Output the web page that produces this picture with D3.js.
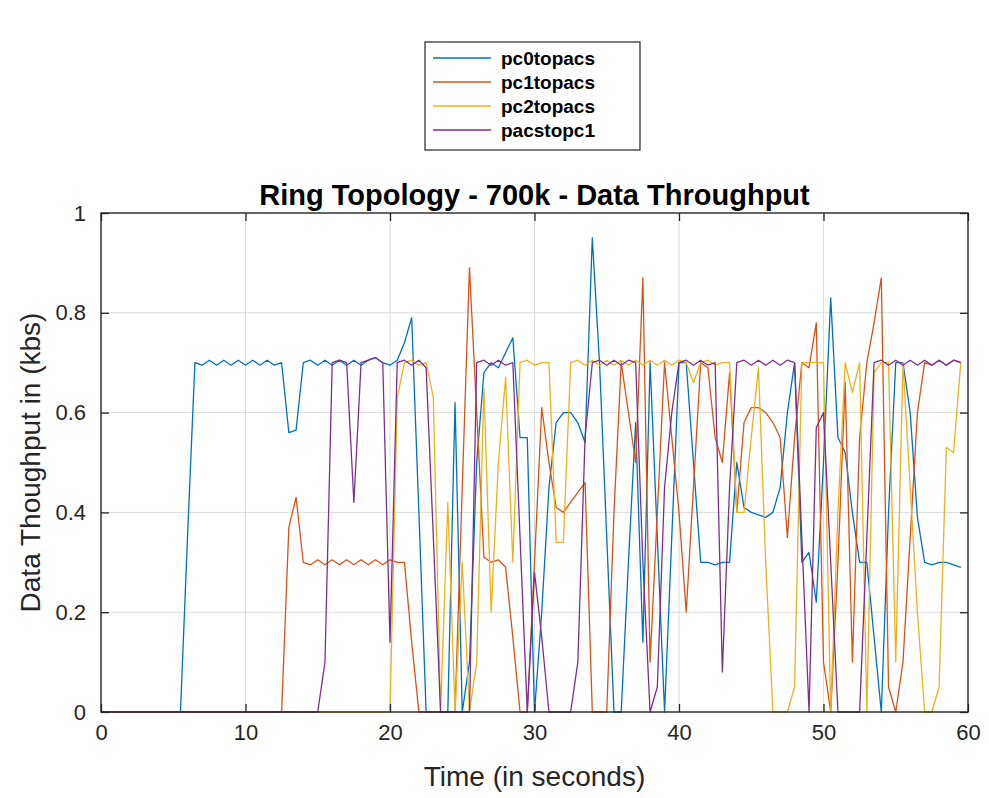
<!DOCTYPE html>
<html>
<head>
<meta charset="utf-8">
<script src="https://cdn.jsdelivr.net/npm/d3@7"></script>
<style>
  body { margin: 0; background: #fff; }
  svg text { font-family: "Liberation Sans", Arial, Helvetica, sans-serif; }
</style>
</head>
<body>
<svg id="chart" width="989" height="798"></svg>
<script>
// Throughput samples, one every 0.5 s starting at t = 0 (kbs)
const sampleStep = 0.5;

const pc0topacs = [
  0, 0, 0, 0, 0, 0, 0, 0, 0, 0,
  0, 0, 0.36, 0.70, 0.695, 0.705, 0.695, 0.705, 0.695, 0.705,
  0.695, 0.705, 0.695, 0.705, 0.695, 0.70, 0.56, 0.565, 0.70, 0.705,
  0.695, 0.705, 0.695, 0.705, 0.695, 0.705, 0.695, 0.705, 0.71, 0.70,
  0.695, 0.705, 0.74, 0.79, 0.40, 0, 0, 0, 0, 0.62,
  0, 0.1, 0.5, 0.68, 0.70, 0.69, 0.72, 0.75, 0.55, 0.55,
  0, 0.2, 0.45, 0.58, 0.60, 0.60, 0.58, 0.54, 0.95, 0.70,
  0.35, 0, 0, 0.3, 0.58, 0.14, 0.70, 0.35, 0, 0.35,
  0.70, 0.70, 0.5, 0.3, 0.30, 0.295, 0.30, 0.30, 0.5, 0.41,
  0.40, 0.395, 0.39, 0.40, 0.45, 0.6, 0.70, 0.3, 0.32, 0.22,
  0.5, 0.83, 0.55, 0.52, 0.4, 0.3, 0.3, 0.15, 0, 0.4,
  0.70, 0.70, 0.6, 0.39, 0.30, 0.295, 0.30, 0.30, 0.295, 0.29
];

const pc1topacs = [
  0, 0, 0, 0, 0, 0, 0, 0, 0, 0,
  0, 0, 0, 0, 0, 0, 0, 0, 0, 0,
  0, 0, 0, 0, 0, 0, 0.37, 0.43, 0.30, 0.295,
  0.305, 0.295, 0.305, 0.295, 0.305, 0.295, 0.305, 0.295, 0.305, 0.295,
  0.305, 0.30, 0.30, 0.14, 0, 0, 0, 0, 0, 0,
  0.45, 0.89, 0.6, 0.31, 0.30, 0.305, 0.29, 0.15, 0, 0,
  0.3, 0.61, 0.5, 0.41, 0.40, 0.42, 0.44, 0.46, 0, 0,
  0, 0.4, 0.70, 0.6, 0.5, 0.87, 0.1, 0.4, 0.70, 0.55,
  0.4, 0.2, 0.45, 0.70, 0.69, 0.55, 0.5, 0.68, 0.4, 0.58,
  0.61, 0.61, 0.60, 0.58, 0.55, 0.35, 0.55, 0.70, 0.69, 0.78,
  0.1, 0, 0.3, 0.66, 0.1, 0.55, 0.70, 0.78, 0.87, 0.05,
  0, 0.1, 0.35, 0.6, 0.70, 0.695, 0.705, 0.695, 0.705, 0.70
];

const pc2topacs = [
  0, 0, 0, 0, 0, 0, 0, 0, 0, 0,
  0, 0, 0, 0, 0, 0, 0, 0, 0, 0,
  0, 0, 0, 0, 0, 0, 0, 0, 0, 0,
  0, 0, 0, 0, 0, 0, 0, 0, 0, 0,
  0, 0.63, 0.70, 0.705, 0.695, 0.70, 0.63, 0, 0.42, 0,
  0.3, 0, 0.1, 0.65, 0.2, 0.5, 0.67, 0.3, 0.70, 0.705,
  0.695, 0.70, 0.70, 0.34, 0.34, 0.70, 0.705, 0.695, 0.705, 0.695,
  0.705, 0.695, 0.705, 0.695, 0.705, 0.695, 0.705, 0.695, 0.705, 0.695,
  0.705, 0.70, 0.66, 0.70, 0.705, 0.695, 0.70, 0.70, 0.4, 0.4,
  0.55, 0.69, 0.3, 0, 0, 0, 0.05, 0.70, 0.70, 0.70,
  0.70, 0, 0.4, 0.70, 0.64, 0.70, 0, 0.68, 0.70, 0.70,
  0.1, 0.70, 0.45, 0.2, 0, 0, 0.05, 0.53, 0.52, 0.70
];

const pacstopc1 = [
  0, 0, 0, 0, 0, 0, 0, 0, 0, 0,
  0, 0, 0, 0, 0, 0, 0, 0, 0, 0,
  0, 0, 0, 0, 0, 0, 0, 0, 0, 0,
  0, 0.1, 0.70, 0.705, 0.70, 0.42, 0.70, 0.705, 0.71, 0.70,
  0.14, 0.70, 0.705, 0.695, 0.705, 0.69, 0.35, 0, 0, 0,
  0, 0, 0.70, 0.705, 0.695, 0.705, 0.695, 0.70, 0.35, 0,
  0.28, 0.15, 0, 0, 0, 0, 0.1, 0.55, 0.70, 0.705,
  0.695, 0.705, 0.695, 0.705, 0.70, 0.3, 0, 0.05, 0.45, 0.6,
  0.70, 0.705, 0.695, 0.705, 0.695, 0.70, 0.08, 0.45, 0.70, 0.705,
  0.695, 0.705, 0.695, 0.705, 0.695, 0.705, 0.70, 0.35, 0, 0.57,
  0.6, 0.3, 0, 0, 0, 0, 0.35, 0.70, 0.705, 0.695,
  0.705, 0.695, 0.705, 0.695, 0.705, 0.695, 0.705, 0.695, 0.705, 0.70
];

const seriesNames = ["pc0topacs", "pc1topacs", "pc2topacs", "pacstopc1"];
const seriesValues = [pc0topacs, pc1topacs, pc2topacs, pacstopc1];
const seriesColors = ["#0072BD", "#D95319", "#EDB120", "#7E2F8E"];

const xTicks = [0, 10, 20, 30, 40, 50, 60];
const yTicks = [0, 0.2, 0.4, 0.6, 0.8, 1];
const yTickLabels = ["0", "0.2", "0.4", "0.6", "0.8", "1"];

const titleText = "Ring Topology - 700k - Data Throughput";
const xLabelText = "Time (in seconds)";
const yLabelText = "Data Thoughput in (kbs)";

// ---- layout ----
const plot = { left: 101, right: 968, top: 213, bottom: 712 };
const axisColor = "#262626";

const svg = d3.select("#chart");
const x = d3.scaleLinear().domain([0, 60]).range([plot.left, plot.right]);
const y = d3.scaleLinear().domain([0, 1]).range([plot.bottom, plot.top]);

// grid
const grid = svg.append("g").attr("stroke", "#dcdcdc").attr("stroke-width", 1);
grid.selectAll(".gx").data(xTicks.slice(1, -1)).join("line")
  .attr("x1", d => x(d)).attr("x2", d => x(d))
  .attr("y1", plot.top).attr("y2", plot.bottom);
grid.selectAll(".gy").data(yTicks.slice(1, -1)).join("line")
  .attr("x1", plot.left).attr("x2", plot.right)
  .attr("y1", d => y(d)).attr("y2", d => y(d));

// series lines
const line = d3.line()
  .x((d, i) => x(i * sampleStep))
  .y(d => y(d));

svg.append("g").attr("fill", "none")
  .selectAll("path").data(seriesValues).join("path")
  .attr("d", d => line(d))
  .attr("stroke", (d, i) => seriesColors[i])
  .attr("stroke-width", 1.3)
  .attr("stroke-linejoin", "round");

// axes (ticks pointing inward)
const tickLen = 8;
const bottomAxis = d3.axisBottom(x).tickValues(xTicks).tickFormat(d3.format("d"))
  .tickSizeInner(-tickLen).tickSizeOuter(0).tickPadding(tickLen + 4);
const topAxis = d3.axisTop(x).tickValues(xTicks).tickFormat("")
  .tickSizeInner(-tickLen).tickSizeOuter(0);
const leftAxis = d3.axisLeft(y).tickValues(yTicks).tickFormat((d, i) => yTickLabels[i])
  .tickSizeInner(-tickLen).tickSizeOuter(0).tickPadding(tickLen + 7);
const rightAxis = d3.axisRight(y).tickValues(yTicks).tickFormat("")
  .tickSizeInner(-tickLen).tickSizeOuter(0);

function styleAxis(g) {
  g.select(".domain").remove();
  g.selectAll(".tick line").attr("stroke", axisColor).attr("stroke-width", 1.3);
  g.selectAll(".tick text").attr("fill", axisColor).attr("font-size", 22);
}
svg.append("g").attr("transform", `translate(0,${plot.bottom})`).call(bottomAxis).call(styleAxis);
svg.append("g").attr("transform", `translate(0,${plot.top})`).call(topAxis).call(styleAxis);
svg.append("g").attr("transform", `translate(${plot.left},0)`).call(leftAxis).call(styleAxis);
svg.append("g").attr("transform", `translate(${plot.right},0)`).call(rightAxis).call(styleAxis);

// axes box
svg.append("rect")
  .attr("x", plot.left).attr("y", plot.top)
  .attr("width", plot.right - plot.left).attr("height", plot.bottom - plot.top)
  .attr("fill", "none").attr("stroke", axisColor).attr("stroke-width", 1.4);

// title and axis labels
svg.append("text")
  .attr("x", (plot.left + plot.right) / 2).attr("y", 205)
  .attr("text-anchor", "middle").attr("font-size", 29).attr("font-weight", "bold")
  .attr("fill", "#000").text(titleText);

svg.append("text")
  .attr("x", (plot.left + plot.right) / 2).attr("y", 786)
  .attr("text-anchor", "middle").attr("font-size", 28)
  .attr("fill", axisColor).text(xLabelText);

svg.append("text")
  .attr("transform", `translate(40,${(plot.top + plot.bottom) / 2}) rotate(-90)`)
  .attr("text-anchor", "middle").attr("font-size", 28)
  .attr("fill", axisColor).text(yLabelText);

// legend
const legend = { x: 425, y: 42, w: 215, h: 108, rowH: 24, firstRow: 16 };
const lg = svg.append("g");
lg.append("rect")
  .attr("x", legend.x).attr("y", legend.y)
  .attr("width", legend.w).attr("height", legend.h)
  .attr("fill", "#fff").attr("stroke", axisColor).attr("stroke-width", 1.2);
const rows = lg.selectAll("g.row").data(seriesNames).join("g")
  .attr("transform", (d, i) => `translate(${legend.x},${legend.y + legend.firstRow + i * legend.rowH})`);
rows.append("line")
  .attr("x1", 8).attr("x2", 66)
  .attr("stroke", (d, i) => seriesColors[i]).attr("stroke-width", 1.3);
rows.append("text")
  .attr("x", 76).attr("dy", "0.35em")
  .attr("font-size", 19).attr("font-weight", "bold")
  .attr("fill", "#000").text(d => d);
</script>
</body>
</html>
